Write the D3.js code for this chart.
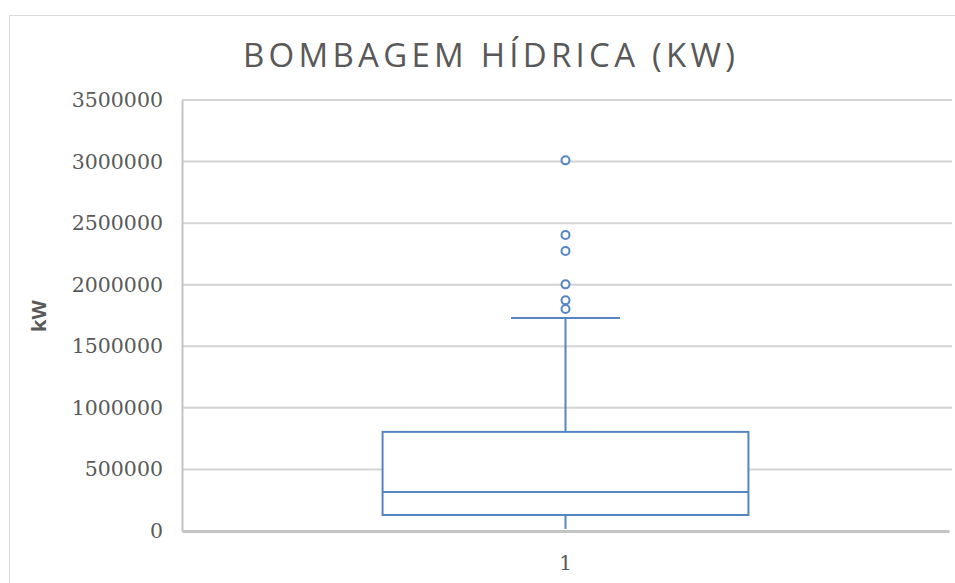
<!DOCTYPE html>
<html lang="en">
<head>
<meta charset="utf-8">
<script src="https://cdn.jsdelivr.net/npm/d3@7"></script>
<style>
  body { margin: 0; background: #fff; }
</style>
</head>
<body>
<script>
  var categories = ["1"];
  var whiskerLow = [0];
  var q1 = [130000];
  var median = [317000];
  var q3 = [805000];
  var whiskerHigh = [1730000];
  var outliers = [[1803000, 1873000, 2003000, 2274000, 2404000, 3010000]];
  var yTicks = [0, 500000, 1000000, 1500000, 2000000, 2500000, 3000000, 3500000];

  var w = 955, h = 583;
  var padding = { left: 182, right: 3, top: 100, bottom: 52 };
  var boxColor = "#5585c5";

  var svg = d3.select("body").append("svg")
    .attr("width", w)
    .attr("height", h);

  // chart frame
  svg.append("path")
    .attr("d", "M9.5," + h + "V15.5H" + w)
    .attr("fill", "none")
    .attr("stroke", "#d9d9d9")
    .attr("stroke-width", 1);

  var yScale = d3.scaleLinear()
    .domain([0, 3500000])
    .range([h - padding.bottom, padding.top]);

  var xScale = d3.scaleBand()
    .domain(categories)
    .range([padding.left, w - padding.right - 3]);

  // gridlines
  svg.selectAll(".grid")
    .data(yTicks.slice(1))
    .enter()
    .append("line")
    .attr("class", "grid")
    .attr("x1", padding.left)
    .attr("x2", w - padding.right)
    .attr("y1", d => yScale(d))
    .attr("y2", d => yScale(d))
    .attr("stroke", "#d4d4d4")
    .attr("stroke-width", 2);

  // y axis
  var yAxis = d3.axisLeft(yScale).tickValues(yTicks).tickSize(0).tickPadding(19).tickFormat(d3.format("d"));
  var gy = svg.append("g")
    .attr("transform", "translate(" + padding.left + ",0)")
    .call(yAxis);
  gy.select(".domain").attr("stroke", "#c4c4c4").attr("stroke-width", 2);
  gy.selectAll("text")
    .attr("fill", "#595959")
    .style("font-family", "'DejaVu Serif', serif")
    .style("font-size", "20.5px");

  // x axis
  var xAxis = d3.axisBottom(xScale).tickSize(0).tickPadding(25);
  var gx = svg.append("g")
    .attr("transform", "translate(0," + (h - padding.bottom) + ")")
    .call(xAxis);
  gx.select(".domain").attr("stroke", "#c4c4c4").attr("stroke-width", 3);
  gx.selectAll("text")
    .attr("fill", "#595959")
    .style("font-family", "'DejaVu Serif', serif")
    .style("font-size", "20px");

  var bw = xScale.bandwidth();
  var boxW = bw * 0.477;
  var capW = bw * 0.142;

  var g = svg.append("g");
  categories.forEach(function(c, i) {
    var cx = xScale(c) + bw / 2;
    // whiskers
    g.append("line")
      .attr("x1", cx).attr("x2", cx)
      .attr("y1", yScale(q3[i])).attr("y2", yScale(whiskerHigh[i]))
      .attr("stroke", boxColor).attr("stroke-width", 2);
    g.append("line")
      .attr("x1", cx).attr("x2", cx)
      .attr("y1", yScale(q1[i])).attr("y2", yScale(whiskerLow[i]) - 2)
      .attr("stroke", boxColor).attr("stroke-width", 2);
    g.append("line")
      .attr("x1", cx - capW / 2).attr("x2", cx + capW / 2)
      .attr("y1", yScale(whiskerHigh[i])).attr("y2", yScale(whiskerHigh[i]))
      .attr("stroke", boxColor).attr("stroke-width", 2);
    // box
    g.append("rect")
      .attr("x", cx - boxW / 2)
      .attr("y", yScale(q3[i]))
      .attr("width", boxW)
      .attr("height", yScale(q1[i]) - yScale(q3[i]))
      .attr("fill", "#fff")
      .attr("stroke", boxColor).attr("stroke-width", 2);
    g.append("line")
      .attr("x1", cx - boxW / 2).attr("x2", cx + boxW / 2)
      .attr("y1", yScale(median[i])).attr("y2", yScale(median[i]))
      .attr("stroke", boxColor).attr("stroke-width", 2);
    // outliers
    g.selectAll(".outlier" + i)
      .data(outliers[i])
      .enter()
      .append("circle")
      .attr("cx", cx)
      .attr("cy", d => yScale(d))
      .attr("r", 4)
      .attr("fill", "#fff")
      .attr("stroke", boxColor)
      .attr("stroke-width", 2);
  });

  svg.append("text")
    .text("BOMBAGEM HÍDRICA (KW)")
    .attr("x", 489)
    .attr("y", 67)
    .attr("text-anchor", "middle")
    .attr("textLength", 492)
    .attr("lengthAdjust", "spacing")
    .attr("fill", "#595959")
    .style("font-family", "'Open Sans', sans-serif")
    .style("font-size", "33px");

  svg.append("text")
    .text("kW")
    .attr("transform", "translate(46,316) rotate(-90)")
    .attr("text-anchor", "middle")
    .attr("fill", "#595959")
    .style("font-family", "'Open Sans', sans-serif")
    .style("font-weight", "bold")
    .style("font-size", "20px");
</script>
</body>
</html>
